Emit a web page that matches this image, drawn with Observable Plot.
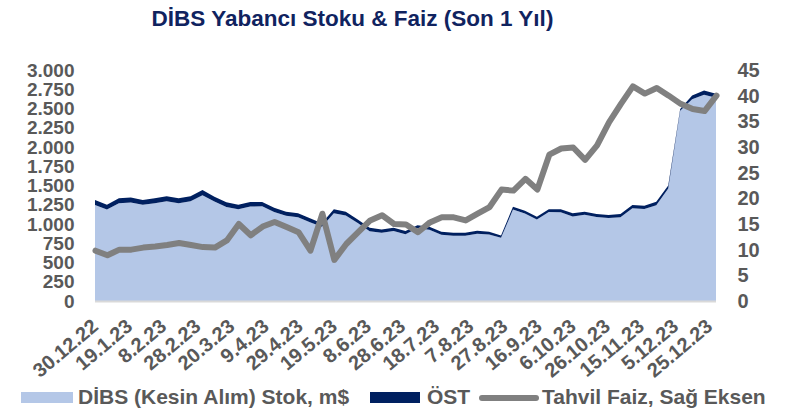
<!DOCTYPE html>
<html>
<head>
<meta charset="utf-8">
<script src="https://cdn.jsdelivr.net/npm/d3@7"></script>
<script src="https://cdn.jsdelivr.net/npm/@observablehq/plot@0.6"></script>
<style>
  html, body { margin: 0; padding: 0; background: #fff; }
  #wrap { position: relative; width: 785px; height: 411px; overflow: hidden; font-family: "Liberation Sans", Arial, sans-serif; font-weight: bold; }
  #chart { position: absolute; left: 0; top: 0; }
  #title { position: absolute; left: 0; top: 7px; width: 705px; text-align: center; font-size: 22.5px; line-height: 24px; color: #10235f; }
  .lg { position: absolute; font-size: 21px; line-height: 21px; color: #595959; top: 386px; white-space: nowrap; }
  .sw { position: absolute; }
</style>
</head>
<body>
<div id="wrap">
  <div id="chart"></div>
  <div id="title">DİBS Yabancı Stoku &amp; Faiz (Son 1 Yıl)</div>
  <div class="sw" style="left:21px; top:392px; width:52px; height:11px; background:#b4c7e7;"></div>
  <div class="lg" style="left:78px;">DİBS (Kesin Alım) Stok, m$</div>
  <div class="sw" style="left:370px; top:392px; width:50px; height:11px; background:#002060;"></div>
  <div class="lg" style="left:427px;">ÖST</div>
  <svg class="sw" style="left:476px; top:390px;" width="66" height="16"><line x1="6" y1="8" x2="60" y2="8" stroke="#808080" stroke-width="6" stroke-linecap="round"/></svg>
  <div class="lg" style="left:542px;">Tahvil Faiz, Sağ Eksen</div>
</div>
<script>
// Weekly observation dates
const dateLabels = ["30.12.22","6.1.23","13.1.23","20.1.23","27.1.23","3.2.23","10.2.23","17.2.23","24.2.23","3.3.23","10.3.23","17.3.23","24.3.23","31.3.23","7.4.23","14.4.23","21.4.23","28.4.23","5.5.23","12.5.23","19.5.23","26.5.23","2.6.23","9.6.23","16.6.23","23.6.23","30.6.23","7.7.23","14.7.23","21.7.23","28.7.23","4.8.23","11.8.23","18.8.23","25.8.23","1.9.23","8.9.23","15.9.23","22.9.23","29.9.23","6.10.23","13.10.23","20.10.23","27.10.23","3.11.23","10.11.23","17.11.23","24.11.23","1.12.23","8.12.23","15.12.23","22.12.23","29.12.23"];
// DİBS (Kesin Alım) Stok, m$
const dibs = [1247,1188,1269,1280,1249,1270,1297,1271,1297,1372,1292,1222,1192,1227,1230,1155,1108,1087,1024,965,1141,1112,1013,905,885,908,868,945,925,862,849,849,875,864,820,1187,1135,1059,1155,1153,1099,1120,1090,1077,1088,1205,1196,1245,1460,2470,2620,2680,2640];
// ÖST, m$
const ost = [65,62,65,65,63,65,65,63,65,68,63,60,58,58,55,55,52,52,50,45,50,48,45,45,42,42,42,40,40,38,38,38,38,36,30,38,38,36,36,38,40,40,40,40,42,42,42,45,40,25,50,55,50];
// Tahvil Faiz, % (right axis)
const faiz = [9.9,9.0,10.1,10.1,10.5,10.7,11.0,11.4,11.0,10.6,10.5,11.9,15.1,12.9,14.6,15.5,14.5,13.5,9.9,17.1,8.1,11.2,13.5,15.8,16.8,15.1,15.0,13.5,15.4,16.4,16.4,15.8,17.1,18.4,21.8,21.6,23.9,21.8,28.6,29.8,30.0,27.6,30.4,34.9,38.5,41.9,40.5,41.6,40.1,38.5,37.5,37.1,40.1];
const seriesNames = ["DİBS (Kesin Alım) Stok, m$", "ÖST"];
const seriesColors = ["#b4c7e7", "#002060"];
const xTickLabels = ["30.12.22","19.1.23","8.2.23","28.2.23","20.3.23","9.4.23","29.4.23","19.5.23","8.6.23","28.6.23","18.7.23","7.8.23","27.8.23","16.9.23","6.10.23","26.10.23","15.11.23","5.12.23","25.12.23"];
const leftTicks = [0,250,500,750,1000,1250,1500,1750,2000,2250,2500,2750,3000];
const rightTicks = [0,5,10,15,20,25,30,35,40,45];

const parse = s => { const [d, m, y] = s.split(".").map(Number); return new Date(Date.UTC(2000 + y, m - 1, d)); };
const fmtDate = d => `${d.getUTCDate()}.${d.getUTCMonth() + 1}.${String(d.getUTCFullYear()).slice(2)}`;
const dates = dateLabels.map(parse);
const xTicks = xTickLabels.map(parse);
const k = 3000 / 45;
const trFmt = d3.formatLocale({decimal: ",", thousands: ".", grouping: [3], currency: ["", ""]}).format(",d");

const long = [];
dates.forEach((d, i) => {
  long.push({date: d, series: seriesNames[0], value: dibs[i]});
  long.push({date: d, series: seriesNames[1], value: ost[i]});
});
const rows = dates.map((d, i) => ({date: d, faiz: faiz[i]}));

const chart = Plot.plot({
  width: 785, height: 411,
  marginTop: 70, marginBottom: 110, marginLeft: 95, marginRight: 69,
  style: {fontFamily: "'Liberation Sans', Arial, sans-serif", fontWeight: "bold", fontSize: "19px", color: "#595959", background: "transparent"},
  x: {type: "utc", domain: [dates[0], dates[dates.length - 1]]},
  y: {domain: [0, 3000]},
  color: {domain: seriesNames, range: seriesColors},
  marks: [
    Plot.areaY(long, {x: "date", y: "value", fill: "series", order: seriesNames}),
    Plot.ruleY([0], {stroke: "#d9d9d9", strokeWidth: 2}),
    Plot.lineY(rows, {x: "date", y: d => d.faiz * k, stroke: "#808080", strokeWidth: 6, strokeLinejoin: "round"}),
    Plot.axisY(leftTicks, {anchor: "left", tickFormat: trFmt, tickSize: 0, tickPadding: 21, label: null, fill: "#595959", fontSize: 19}),
    Plot.axisY(rightTicks.map(v => v * k), {anchor: "right", tickFormat: v => String(Math.round(v / k)), tickSize: 0, tickPadding: 21, textAnchor: "start", label: null, fill: "#595959", fontSize: 20}),
    Plot.axisX(xTicks, {anchor: "bottom", tickFormat: fmtDate, tickRotate: -40, tickSize: 0, tickPadding: 22, label: null, fill: "#595959", fontSize: 20})
  ]
});
document.getElementById("chart").appendChild(chart);
</script>
</body>
</html>
